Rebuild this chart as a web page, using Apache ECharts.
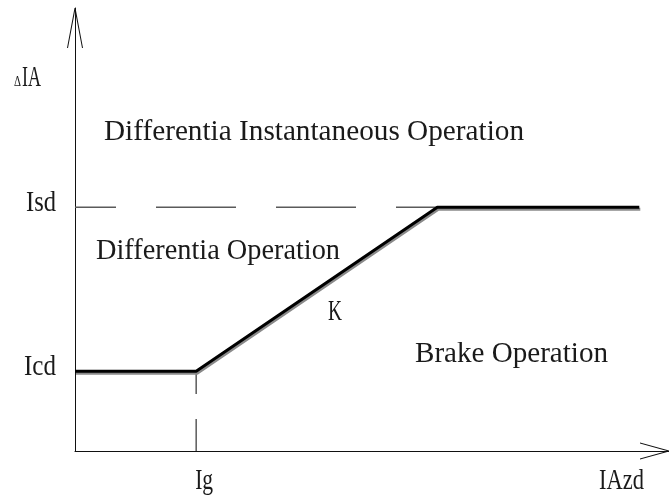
<!DOCTYPE html>
<html>
<head>
<meta charset="utf-8">
<script src="https://cdn.jsdelivr.net/npm/echarts@6/dist/echarts.min.js"></script>
<style>
html, body { margin: 0; padding: 0; background: #fff; }
#chart { width: 669px; height: 497px; }
</style>
</head>
<body>
<div id="chart"></div>
<script>
// 制动特性曲线的折点（横轴 IAzd，纵轴 ΔIA，0~100 相对单位）
const curveX = [0, 20.4, 61, 95];
const curveY = [18, 18, 55, 55];
// Isd 水平虚线
const isdLineX = [0, 61];
const isdLineY = [55, 55];
// Ig 竖直虚线
const igLineX = [20.4, 20.4];
const igLineY = [0, 18];
// 刻度标签
const yTickValues = [55, 18];
const yTickLabels = ['Isd', 'Icd'];
const xTickValues = [20.4, 88.4];
const xTickLabels = ['Ig', 'IAzd'];
// 区域说明文字
const regionTexts = ['Differentia Instantaneous Operation', 'Differentia Operation', 'K', 'Brake Operation'];

const FONT_FAMILY = '"Liberation Serif", "DejaVu Serif", serif';
const FONT_SIZE = 30;
const TEXT_COLOR = '#1a1a1a';

// 区域文字的版面位置 [左, 右, 中心y]
const regionLayout = [
  [104, 524, 132],
  [96, 340, 251],
  [328, 342, 312],
  [415, 608, 354]
];

const chart = echarts.init(document.getElementById('chart'));

function pairs(xs, ys) {
  return xs.map((x, i) => [x, ys[i]]);
}

const option = {
  animation: false,
  grid: { left: 75, right: 0, top: 8, bottom: 46, outerBoundsMode: 'none' },
  xAxis: {
    type: 'value',
    min: 0,
    max: 100,
    axisLine: {
      show: true,
      onZero: false,
      symbol: ['none', 'path://M8,0 L9,0 L17,29 L16,29 L8.5,2 L1,29 L0,29 Z'],
      symbolSize: [17, 29],
      symbolOffset: [0, -14.5],
      lineStyle: { color: '#111', width: 1 }
    },
    axisTick: { show: false },
    axisLabel: { show: false },
    splitLine: { show: false }
  },
  yAxis: {
    type: 'value',
    min: 0,
    max: 100,
    axisLine: {
      show: true,
      onZero: false,
      symbol: ['none', 'path://M7.5,0 L8.5,0 L16,40 L15,40 L8,3 L1,40 L0,40 Z'],
      symbolSize: [16, 40],
      symbolOffset: [0, -20],
      lineStyle: { color: '#111', width: 1 }
    },
    axisTick: { show: false },
    axisLabel: { show: false },
    splitLine: { show: false }
  },
  series: [
    {
      type: 'line',
      data: pairs(isdLineX, isdLineY),
      symbol: 'none',
      silent: true,
      lineStyle: { color: '#5a5a5a', width: 1.5, type: [80, 40], dashOffset: 39 }
    },
    {
      type: 'line',
      data: pairs(igLineX, igLineY),
      symbol: 'none',
      silent: true,
      lineStyle: { color: '#5a5a5a', width: 1.5, type: [32, 25] }
    },
    {
      type: 'line',
      data: pairs(curveX, curveY),
      symbol: 'none',
      silent: true,
      z: 3,
      lineStyle: {
        color: '#000',
        width: 3,
        shadowColor: '#8a8a8a',
        shadowBlur: 0,
        shadowOffsetX: 1,
        shadowOffsetY: 2
      }
    }
  ]
};
chart.setOption(option);

// 文字：用 Liberation Serif 并横向压缩，模仿原图的窄字体
const measureCtx = document.createElement('canvas').getContext('2d');
function textEl(str, left, right, cy, size) {
  const font = size + 'px ' + FONT_FAMILY;
  measureCtx.font = font;
  const w = measureCtx.measureText(str).width;
  return {
    type: 'text',
    x: left,
    y: cy,
    scaleX: (right - left) / w,
    silent: true,
    style: {
      text: str,
      font: font,
      fill: TEXT_COLOR,
      textAlign: 'left',
      textVerticalAlign: 'middle'
    }
  };
}

const graphics = [];
regionTexts.forEach((t, i) => {
  const l = regionLayout[i];
  graphics.push(textEl(t, l[0], l[1], l[2], FONT_SIZE));
});
// 纵轴名称 ΔIA
graphics.push(textEl('Δ', 14, 21, 82, 15));
graphics.push(textEl('IA', 22, 41, 78, FONT_SIZE));

// 纵轴刻度标签（右对齐到轴左侧）
const yLabelWidths = [30, 32];
yTickValues.forEach((v, i) => {
  const p = chart.convertToPixel({ gridIndex: 0 }, [0, v]);
  const right = p[0] - 19;
  graphics.push(textEl(yTickLabels[i], right - yLabelWidths[i], right, p[1] - 4.5, FONT_SIZE));
});
// 横轴刻度标签
const xLabelWidths = [18, 45];
xTickValues.forEach((v, i) => {
  const p = chart.convertToPixel({ gridIndex: 0 }, [v, 0]);
  const left = p[0] - 1;
  graphics.push(textEl(xTickLabels[i], left, left + xLabelWidths[i], p[1] + 30.5, FONT_SIZE));
});

chart.setOption({ graphic: graphics });
</script>
</body>
</html>
